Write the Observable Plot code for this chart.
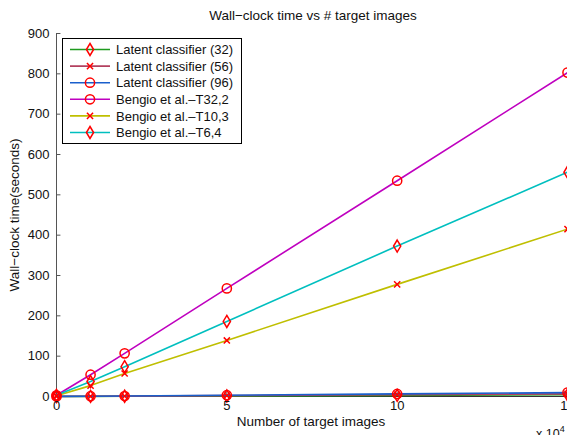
<!DOCTYPE html>
<html><head><meta charset="utf-8">
<script src="https://cdn.jsdelivr.net/npm/d3@7"></script>
<script src="https://cdn.jsdelivr.net/npm/@observablehq/plot@0.6"></script>
<style>
body{margin:0;background:#fff;font-family:"Liberation Sans",Arial,Helvetica,sans-serif;}
#wrap{position:relative;width:567px;height:435px;overflow:hidden;background:#fff;}
#wrap svg.plot{position:absolute;left:0;top:0;}
.t{position:absolute;white-space:nowrap;color:#111;}
#legend{position:absolute;left:62px;top:38px;width:178px;height:104px;border:1px solid #000;background:#fff;}
</style></head><body><div id="wrap"></div>
<script>
// x in units of 10^4 target images
const xValues = [0, 1, 2, 5, 10, 15];
const seriesNames = ["Latent classifier (32)", "Latent classifier (56)", "Latent classifier (96)",
  "Bengio et al.\u2013T32,2", "Bengio et al.\u2013T10,3", "Bengio et al.\u2013T6,4"];
const latent32 = [0.1, 0.3, 0.6, 1.4, 2.8, 4.2];
const latent56 = [0.2, 0.5, 0.9, 2.2, 4.4, 6.6];
const latent96 = [0.3, 0.7, 1.3, 3.2, 6.4, 9.6];
const bengioT32 = [3, 54, 107, 268, 535, 803];
const bengioT10 = [2, 27, 57, 139, 278, 415];
const bengioT6 = [3, 37, 74, 186, 373, 556];
const seriesColors = ["#1f9a1f", "#b3405f", "#1a5fcc", "#bf00bf", "#bfbf00", "#00bfbf"];
const seriesSymbols = ["diamond", "times", "circle", "circle", "times", "diamond"];
const xTicks = [0, 5, 10, 15];
const yTicks = [0, 100, 200, 300, 400, 500, 600, 700, 800, 900];

// MATLAB-style tall diamond
const tallDiamond = {
  draw(context, size) {
    const r = Math.sqrt(size / Math.PI);
    const w = r * 0.6;
    context.moveTo(0, -r);
    context.lineTo(w, 0);
    context.lineTo(0, r);
    context.lineTo(-w, 0);
    context.closePath();
  }
};
const symbolMap = {circle: d3.symbolCircle, times: d3.symbolTimes, diamond: tallDiamond};
const symbolR = {circle: 4.6, times: 2.9, diamond: 6};

const allValues = [latent32, latent56, latent96, bengioT32, bengioT10, bengioT6];
const rows = [];
allValues.forEach((vals, si) => vals.forEach((v, i) => rows.push({series: seriesNames[si], x: xValues[i], y: v, si})));
const drawOrder = [3, 4, 5, 0, 1, 2];

const marks = [];
marks.push(Plot.ruleX([0], {stroke: "#555", strokeWidth: 1}));
marks.push(Plot.ruleY([0], {stroke: "#333", strokeWidth: 1}));
marks.push(Plot.ruleY(yTicks, {y: d => d, x1: 0, x2: 0.13, stroke: "#555"}));
marks.push(Plot.ruleX(xTicks, {x: d => d, y1: 0, y2: 11, stroke: "#555"}));
for (const si of drawOrder) {
  const data = rows.filter(r => r.si === si);
  marks.push(Plot.line(data, {x: "x", y: "y", stroke: seriesColors[si], strokeWidth: 1.6}));
}
for (const si of drawOrder) {
  const data = rows.filter(r => r.si === si);
  const s = seriesSymbols[si];
  marks.push(Plot.dot(data, {x: "x", y: "y", symbol: () => symbolMap[s], r: symbolR[s], stroke: "#ff0000", strokeWidth: 1.5, fill: "none"}));
}
marks.push(Plot.axisY({ticks: yTicks, tickSize: 0, tickPadding: 7, fontSize: 13, label: null, color: "#111"}));
marks.push(Plot.axisX({ticks: xTicks, tickSize: 0, tickPadding: 4, fontSize: 13, label: null, color: "#111"}));

const plot = Plot.plot({
  width: 567, height: 435,
  marginLeft: 56, marginRight: 0, marginTop: 33, marginBottom: 39,
  x: {domain: [0, 15]},
  y: {domain: [0, 900]},
  symbol: {type: "identity"},
  style: {fontFamily: '"Liberation Sans", Arial, sans-serif', background: "transparent", overflow: "visible"},
  marks
});
plot.classList.add("plot");
const wrap = document.getElementById("wrap");
wrap.appendChild(plot);

function addText(html, css) {
  const d = document.createElement("div");
  d.className = "t";
  d.innerHTML = html;
  Object.assign(d.style, css);
  wrap.appendChild(d);
  return d;
}
addText("Wall\u2212clock time vs # target images", {left: "313px", top: "8px", fontSize: "13.5px", transform: "translateX(-50%)"});
addText("Number of target images", {left: "311px", top: "414px", fontSize: "13.5px", transform: "translateX(-50%)"});
addText("Wall\u2212clock time(seconds)", {left: "14px", top: "215px", fontSize: "13.5px", transform: "translate(-50%,-50%) rotate(-90deg)"});
addText("x 10<sup style='font-size:9px;vertical-align:6px'>4</sup>", {left: "536px", top: "424px", fontSize: "12.5px"});

// legend
const leg = document.createElement("div");
leg.id = "legend";
wrap.appendChild(leg);
const ls = d3.select(leg).append("svg").attr("width", 178).attr("height", 104);
seriesNames.forEach((name, i) => {
  const cy = 10.5 + i * 16.6;
  const g = ls.append("g").attr("transform", `translate(0,${cy})`);
  g.append("line").attr("x1", 7).attr("x2", 47).attr("stroke", seriesColors[i]).attr("stroke-width", 1.6);
  const s = seriesSymbols[i];
  const r = symbolR[s];
  g.append("path").attr("transform", "translate(27,0)")
    .attr("d", d3.symbol(symbolMap[s], Math.PI * r * r)())
    .attr("fill", "none").attr("stroke", "#ff0000").attr("stroke-width", 1.5);
  g.append("text").attr("x", 53).attr("y", 0).attr("dy", "0.36em")
    .attr("font-size", 13).attr("fill", "#111")
    .attr("font-family", '"Liberation Sans", Arial, sans-serif').text(name);
});
</script>
</body></html>
